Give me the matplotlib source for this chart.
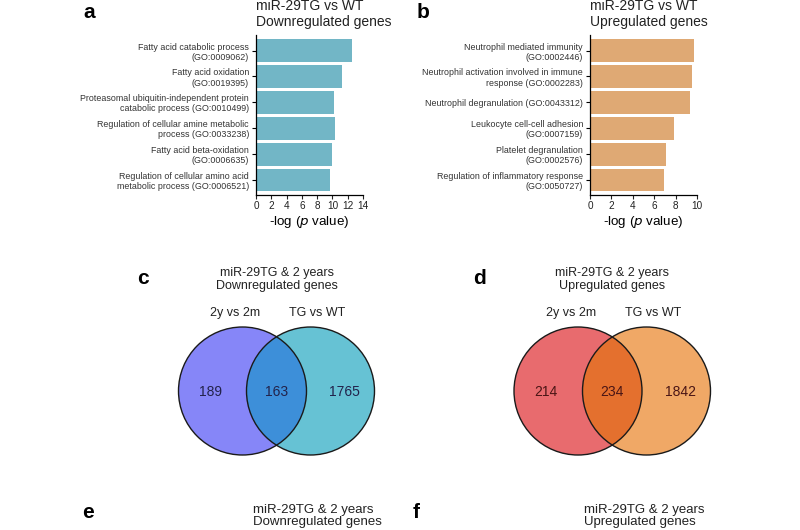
import matplotlib
matplotlib.use("Agg")
import matplotlib.pyplot as plt
from matplotlib.patches import Circle

plt.rcParams['font.family'] = ['Liberation Sans', 'DejaVu Sans']

# GO enrichment, downregulated (panel a)
down_terms = ["Fatty acid catabolic process\n(GO:0009062)",
              "Fatty acid oxidation\n(GO:0019395)",
              "Proteasomal ubiquitin-independent protein\ncatabolic process (GO:0010499)",
              "Regulation of cellular amine metabolic\nprocess (GO:0033238)",
              "Fatty acid beta-oxidation\n(GO:0006635)",
              "Regulation of cellular amino acid\nmetabolic process (GO:0006521)"]
down_vals = [12.5, 11.3, 10.25, 10.3, 10.0, 9.7]

# GO enrichment, upregulated (panel b)
up_terms = ["Neutrophil mediated immunity\n(GO:0002446)",
            "Neutrophil activation involved in immune\nresponse (GO:0002283)",
            "Neutrophil degranulation (GO:0043312)",
            "Leukocyte cell-cell adhesion\n(GO:0007159)",
            "Platelet degranulation\n(GO:0002576)",
            "Regulation of inflammatory response\n(GO:0050727)"]
up_vals = [9.75, 9.53, 9.38, 7.83, 7.06, 6.87]

# venn counts: only 2y-vs-2m, shared, only TG-vs-WT
venn_down = [189, 163, 1765]
venn_up = [214, 234, 1842]

fig = plt.figure(figsize=(8, 5.3), dpi=100)
W, H = 800, 530


def bar_panel(left, terms, vals, color, xmax, letter, title):
    ax = fig.add_axes([left / W, 1 - 195 / H, 107 / W, 160 / H])
    ax.barh(range(len(vals)), vals, height=0.87, color=color)
    ax.set_ylim(len(vals) - 0.43, -0.6)
    ax.set_xlim(0, xmax)
    ax.set_xticks(range(0, xmax + 1, 2))
    ax.set_yticks(range(len(terms)))
    ax.set_yticklabels(terms, fontsize=6.4, linespacing=1.15, color='#333333')
    ax.tick_params(axis='x', labelsize=7.2, length=3, width=0.8, pad=1.5, colors='#222222')
    ax.tick_params(axis='y', length=3, width=0.8, pad=2)
    for s in ['top', 'right']:
        ax.spines[s].set_visible(False)
    for s in ['left', 'bottom']:
        ax.spines[s].set_linewidth(0.9)
    ax.set_xlabel('-log ($\\it{p}$ value)', fontsize=9.6, labelpad=2)
    fig.text(left / W, 1 - 14 / H, title, fontsize=10, va='center', ha='left',
             linespacing=1.1, color='#222222')
    fig.text((left - 173) / W, 1 - 12 / H, letter, fontsize=15, fontweight='bold', va='center')
    return ax


bar_panel(256, down_terms, down_vals, '#72b6c6', 14, 'a', 'miR-29TG vs WT\nDownregulated genes')
bar_panel(590, up_terms, up_vals, '#dfa974', 10, 'b', 'miR-29TG vs WT\nUpregulated genes')

# venn diagrams in pixel coordinates
vx = fig.add_axes([0, 0, 1, 1])
vx.set_xlim(0, W)
vx.set_ylim(H, 0)
vx.axis('off')


def venn(cx_left, cx_right, counts, cols, txtcol, letter, letter_x, title):
    cy, r = 391, 64
    vx.add_patch(Circle((cx_left, cy), r, facecolor=cols[0], edgecolor='none'))
    vx.add_patch(Circle((cx_right, cy), r, facecolor=cols[2], edgecolor='none'))
    # intersection: clip second circle by the first
    inter = Circle((cx_right, cy), r, facecolor=cols[1], edgecolor='none')
    vx.add_patch(inter)
    clip = Circle((cx_left, cy), r, transform=vx.transData)
    inter.set_clip_path(clip)
    for cx in (cx_left, cx_right):
        vx.add_patch(Circle((cx, cy), r, facecolor='none', edgecolor='#1a1a1a', lw=1.0))
    mid = (cx_left + cx_right) / 2
    xs = [cx_left - 32, mid, cx_right + 34]
    for x, n in zip(xs, counts):
        vx.text(x, cy + 1, str(n), ha='center', va='center', fontsize=10, color=txtcol)
    vx.text(cx_left - 7, 313, '2y vs 2m', ha='center', va='center', fontsize=9, color='#222222')
    vx.text(cx_right + 7, 313, 'TG vs WT', ha='center', va='center', fontsize=9, color='#222222')
    vx.text(mid, 279.5, title, ha='center', va='center', fontsize=9, linespacing=1.2,
            color='#222222')
    vx.text(letter_x, 278, letter, ha='center', va='center', fontsize=15, fontweight='bold')


venn(242.5, 310.5, venn_down, ['#8686f8', '#3d8fd9', '#66c2d4'], '#22224a', 'c', 143,
     'miR-29TG & 2 years\nDownregulated genes')
venn(578, 646.5, venn_up, ['#e86b6e', '#e4702e', '#f0a866'], '#4a1515', 'd', 480,
     'miR-29TG & 2 years\nUpregulated genes')

# bottom panel headers (cut off in the source image)
narrow = ['Liberation Sans Narrow', 'Liberation Sans', 'DejaVu Sans']
fig.text(88 / W, 1 - 513 / H, 'e', fontsize=15, fontweight='bold', va='center', ha='center')
fig.text(253 / W, 1 - 516 / H, 'miR-29TG & 2 years\nDownregulated genes', fontsize=9.5,
         va='center', ha='left', family=narrow, linespacing=1.0, color='#222222')
fig.text(416 / W, 1 - 512 / H, 'f', fontsize=15, fontweight='bold', va='center', ha='center',
         family=narrow)
fig.text(584 / W, 1 - 516 / H, 'miR-29TG & 2 years\nUpregulated genes', fontsize=9.5,
         va='center', ha='left', family=narrow, linespacing=1.0, color='#222222')

fig.savefig('out.png', dpi=100)
